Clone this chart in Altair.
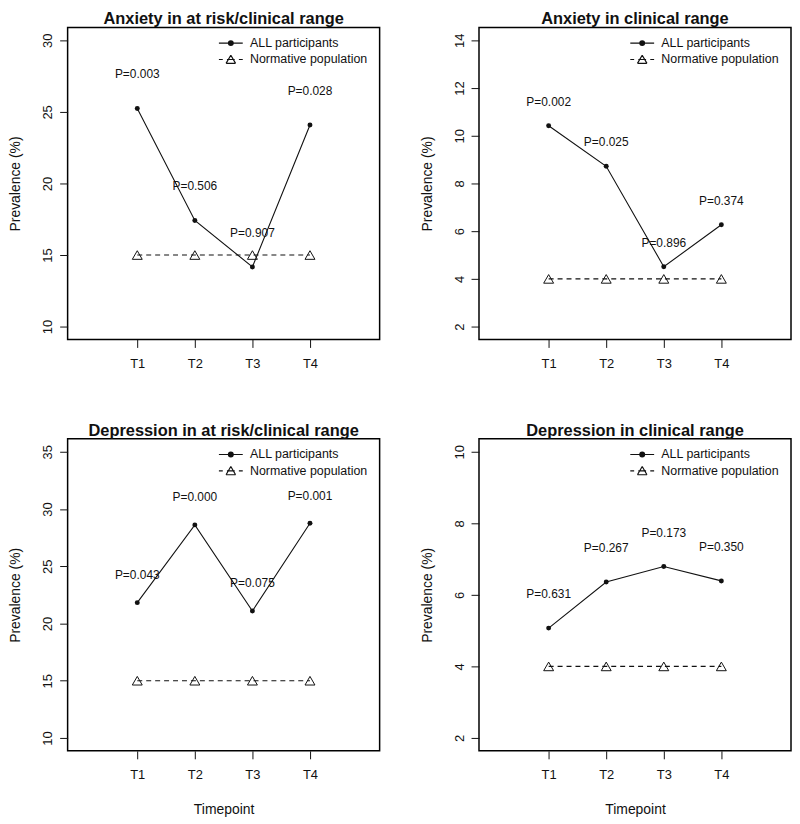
import altair as alt
import pandas as pd

# ---------------- data ----------------
timepoints = ["T1", "T2", "T3", "T4"]
time_index = [1, 2, 3, 4]
series_names = ["ALL participants", "Normative population"]

panel_titles = [
    "Anxiety in at risk/clinical range",
    "Anxiety in clinical range",
    "Depression in at risk/clinical range",
    "Depression in clinical range",
]
all_participants = [
    [25.24, 17.42, 14.17, 24.08],
    [10.42, 8.72, 4.51, 6.27],
    [21.82, 28.61, 21.09, 28.75],
    [5.07, 6.36, 6.79, 6.39],
]
normative = [
    [15, 15, 15, 15],
    [4, 4, 4, 4],
    [15, 15, 15, 15],
    [4, 4, 4, 4],
]
p_values = [
    ["P=0.003", "P=0.506", "P=0.907", "P=0.028"],
    ["P=0.002", "P=0.025", "P=0.896", "P=0.374"],
    ["P=0.043", "P=0.000", "P=0.075", "P=0.001"],
    ["P=0.631", "P=0.267", "P=0.173", "P=0.350"],
]
y_limits = [(10, 30), (2, 14), (10, 35), (2, 10)]
y_ticks = [
    [10, 15, 20, 25, 30],
    [2, 4, 6, 8, 10, 12, 14],
    [10, 15, 20, 25, 30, 35],
    [2, 4, 6, 8, 10],
]
label_offsets = [2.4, 1.0, 2.4, 0.95]
x_limits = (0, 5)

# ---------------- styling ----------------
W, H = 314, 314
FONT = "Liberation Sans"
INK = "#111111"
YPAD, XPAD = 0.045, 0.042

# legend symbols: line + dot, dashed line + open triangle (1 unit = 3 px)
def ring(r):
    return f"M{-r},0A{r},{r},0,1,1,{r},0A{r},{r},0,1,1,{-r},0Z"

path_all = "M-4,0L4,0" + ring(0.8) + ring(0.45) + ring(0.1)
path_norm = ("M-4,0L-2.7,0M-1.3,0L1.3,0M2.7,0L4,0"
             "M-1.6,1.3L0,-1.45M0,-1.45L1.6,1.3M1.6,1.3L-1.6,1.3")


def make_panel(i, show_xtitle):
    lo, hi = y_limits[i]
    ypad = (hi - lo) * YPAD
    xlo, xhi = x_limits
    xpad = (xhi - xlo) * XPAD
    rows = []
    for t, tp, a, n, p in zip(time_index, timepoints, all_participants[i],
                              normative[i], p_values[i]):
        rows.append({"t": t, "tp": tp, "series": series_names[0], "value": a,
                     "p": p, "label_y": a + label_offsets[i]})
        rows.append({"t": t, "tp": tp, "series": series_names[1], "value": n,
                     "p": "", "label_y": n})
    df = pd.DataFrame(rows)
    base = alt.Chart(df)

    xaxis_kw = dict(values=time_index, labelExpr="'T' + datum.value",
                    labelPadding=10, labelFlush=False)
    if show_xtitle:
        xaxis_kw.update(titleY=59, titleBaseline="middle")
    x = alt.X("t:Q",
              scale=alt.Scale(domain=[xlo - xpad, xhi + xpad], nice=False, zero=False),
              axis=alt.Axis(**xaxis_kw),
              title="Timepoint" if show_xtitle else None)
    yscale = alt.Scale(domain=[lo - ypad, hi + ypad], nice=False, zero=False)
    yaxis = alt.Axis(values=y_ticks[i], labelAngle=270, labelAlign="center",
                     labelBaseline="alphabetic", labelPadding=8, labelOverlap=False,
                     titleX=-52, titleBaseline="middle")
    y = alt.Y("value:Q", scale=yscale, axis=yaxis, title="Prevalence (%)")
    ylab = alt.Y("label_y:Q", scale=yscale, axis=yaxis, title="Prevalence (%)")

    is_all = alt.datum.series == series_names[0]
    is_norm = alt.datum.series == series_names[1]

    line_all = base.transform_filter(is_all).mark_line(
        color=INK, strokeWidth=1.1).encode(x=x, y=y)
    pts_all = base.transform_filter(is_all).mark_point(
        filled=True, size=25, color=INK, opacity=1).encode(x=x, y=y)
    line_norm = base.transform_filter(is_norm).mark_line(
        color=INK, strokeWidth=1.1, strokeDash=[5, 4]).encode(x=x, y=y)
    pts_norm = base.transform_filter(is_norm).mark_point(
        shape="triangle-up", filled=False, size=100, strokeWidth=1,
        color=INK, opacity=1).encode(x=x, y=y)
    labels = base.transform_filter(is_all).mark_text(
        font=FONT, fontSize=12, color=INK, align="center", baseline="middle"
    ).encode(x=x, y=ylab, text="p:N")
    legend_driver = base.transform_filter("false").mark_point(
        filled=False, color=INK, strokeWidth=1.2, opacity=1
    ).encode(
        x=x, y=y,
        shape=alt.Shape(
            "series:N",
            scale=alt.Scale(domain=series_names, range=[path_all, path_norm]),
            legend=alt.Legend(title=None, orient="none", legendX=158, legendY=9.5,
                              symbolSize=36, symbolStrokeWidth=1.2,
                              symbolStrokeColor=INK,
                              labelFont=FONT,
                              labelFontSize=12.5, labelColor=INK, labelOffset=13,
                              rowPadding=2.5, padding=0),
        ),
    )
    return alt.layer(line_norm, pts_norm, line_all, pts_all, labels,
                     legend_driver).properties(
        width=W, height=H,
        title=alt.TitleParams(panel_titles[i], font=FONT, fontSize=16.5,
                              fontWeight="bold", color=INK, offset=-0.5,
                              anchor="middle"),
    )


row1 = alt.hconcat(make_panel(0, False), make_panel(1, False), spacing=39
                   ).resolve_scale(shape="independent").resolve_legend(shape="independent")
row2 = alt.hconcat(make_panel(2, True), make_panel(3, True), spacing=39
                   ).resolve_scale(shape="independent").resolve_legend(shape="independent")

chart = (
    alt.vconcat(row1, row2, spacing=51)
    .resolve_scale(shape="independent")
    .resolve_legend(shape="independent")
    .properties(padding=0, background="white")
    .configure_view(stroke="black", strokeWidth=1.5)
    .configure_axis(grid=False, domain=False, tickColor=INK, tickSize=8,
                    tickWidth=1, labelFont=FONT, labelFontSize=13,
                    labelColor=INK, titleFont=FONT, titleFontSize=14,
                    titleFontWeight="normal", titleColor=INK)
)

chart.save("out.html", embed_options={"renderer": "svg", "actions": False})
